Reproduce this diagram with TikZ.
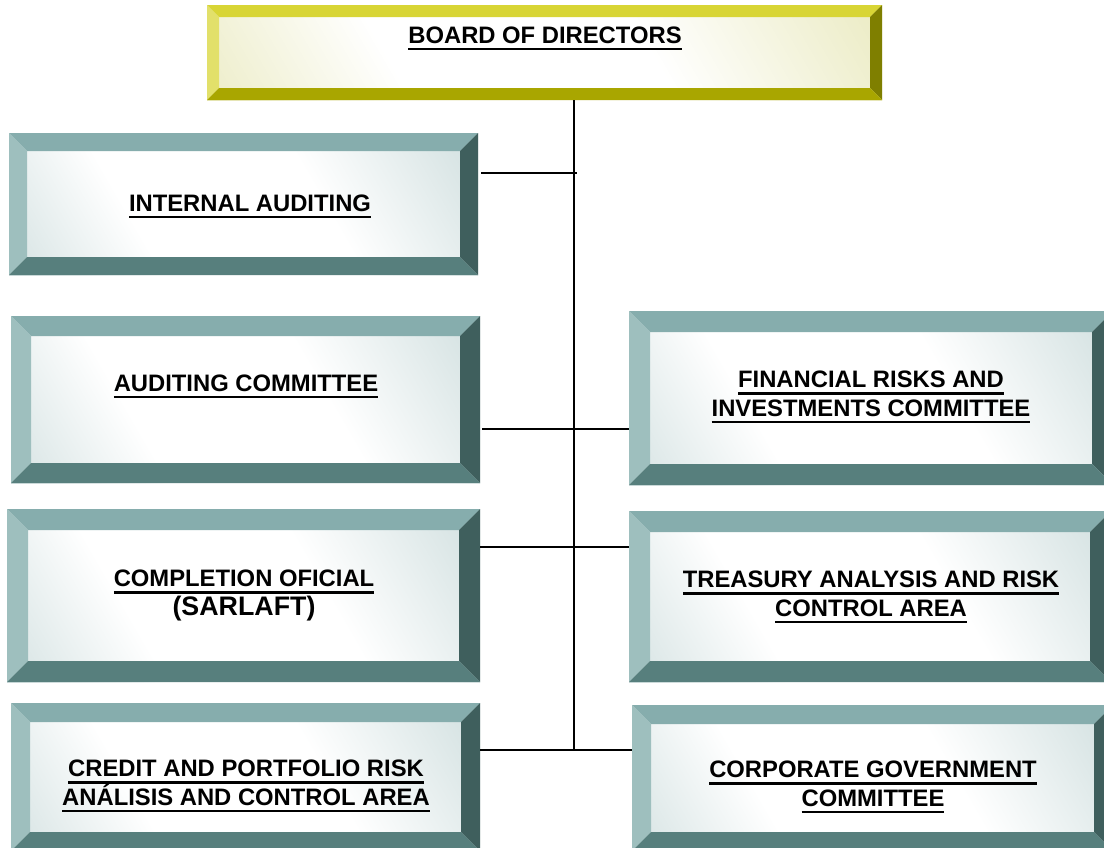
\documentclass[tikz,border=0pt]{standalone}
\usepackage{fontspec}
\setmainfont{Liberation Sans}
\usetikzlibrary{calc}

\definecolor{goldtop}{HTML}{D8D535}
\definecolor{goldleft}{HTML}{E2E06A}
\definecolor{goldright}{HTML}{7F7F00}
\definecolor{goldbottom}{HTML}{A9A600}
\definecolor{goldpale}{HTML}{DEDE9C}
\definecolor{tealtop}{HTML}{86ADAD}
\definecolor{tealleft}{HTML}{9EBFBE}
\definecolor{tealright}{HTML}{3F5F5D}
\definecolor{tealbottom}{HTML}{577F7D}
\definecolor{tealpale}{HTML}{B3CBCB}

\pgfdeclarehorizontalshading{goldglass}{100bp}{color(0bp)=(goldpale); color(35bp)=(white); color(60bp)=(white); color(100bp)=(goldpale)}
\pgfdeclarehorizontalshading{tealglass}{100bp}{color(0bp)=(tealpale); color(35bp)=(white); color(60bp)=(white); color(100bp)=(tealpale)}

% four bevelled faces inside the node's rectangle
\newcommand{\bevels}[5]{%
  \coordinate (bnw) at (path picture bounding box.north west);
  \coordinate (bne) at (path picture bounding box.north east);
  \coordinate (bsw) at (path picture bounding box.south west);
  \coordinate (bse) at (path picture bounding box.south east);
  \fill[#2] (bnw) -- (bne) -- ([shift={(-#1,-#1)}]bne) -- ([shift={(#1,-#1)}]bnw) -- cycle;
  \fill[#3] (bnw) -- ([shift={(#1,-#1)}]bnw) -- ([shift={(#1,#1)}]bsw) -- (bsw) -- cycle;
  \fill[#4] (bne) -- (bse) -- ([shift={(-#1,#1)}]bse) -- ([shift={(-#1,-#1)}]bne) -- cycle;
  \fill[#5] (bsw) -- (bse) -- ([shift={(-#1,#1)}]bse) -- ([shift={(#1,#1)}]bsw) -- cycle;}

\newcommand{\ulined}[1]{\leavevmode\setbox0\hbox{#1}\rlap{\rule[-7.4pt]{\wd0}{2.9pt}}\box0}

\begin{document}
\begin{tikzpicture}[x=1pt,y=-1pt]

    \useasboundingbox (0,0) rectangle (1104,847);
    \clip (0,0) rectangle (1104,847);

    \tikzset{
      BoxStyle/.style = { rectangle, inner sep = 0pt, shading = tealglass,
                          shading angle = 30,
                          path picture = {\bevels{#1}{tealtop}{tealleft}{tealright}{tealbottom}} },
      BoxStyle/.default = 20pt,
      BoardStyle/.style = { rectangle, inner sep = 0pt, shading = goldglass,
                            shading angle = 30,
                            path picture = {\bevels{12pt}{goldtop}{goldleft}{goldright}{goldbottom}} },
      LabelStyle/.style = { inner sep = 0pt, align = center, anchor = base,
                            font = \fontsize{23.8}{28.5}\selectfont\bfseries },
      EdgeStyle/.style = { black, line width = 2.2pt } }

      \node[BoardStyle, minimum width = 675pt, minimum height = 95pt] (b) at (544.5,52.5) {};

      \node[BoxStyle = 18pt, minimum width = 469pt, minimum height = 142pt] (l1) at (243.5,204) {};
      \node[BoxStyle, minimum width = 469pt, minimum height = 167pt] (l2) at (245.5,399.5) {};
      \node[BoxStyle = 21pt, minimum width = 473pt, minimum height = 173pt] (l3) at (243.5,595.5) {};
      \node[BoxStyle = 19pt, minimum width = 469pt, minimum height = 148pt] (l4) at (245.5,777) {};

      \node[BoxStyle = 21pt, minimum width = 484pt, minimum height = 174pt] (r1) at (871,398) {};
      \node[BoxStyle = 21pt, minimum width = 482pt, minimum height = 171pt] (r2) at (870,596.5) {};
      \node[BoxStyle = 19pt, minimum width = 481pt, minimum height = 146pt] (r3) at (872.5,778) {};

      % base anchor sits on the last line
      \node[LabelStyle] (tb) at (545,43) {\ulined{BOARD OF DIRECTORS}};
      \node[LabelStyle] (tl1) at (250,211) {\ulined{INTERNAL AUDITING}};
      \node[LabelStyle] (tl2) at (246,391) {\ulined{AUDITING COMMITTEE}};
      \node[LabelStyle] (tl3) at (244,615) {\ulined{COMPLETION OFICIAL}\\
        {\fontsize{26.8}{29}\selectfont (SARLAFT)}};
      \node[LabelStyle] (tl4) at (246,805) {\ulined{CREDIT AND PORTFOLIO RISK}\\
        \ulined{ANÁLISIS AND CONTROL AREA}};
      \node[LabelStyle] (tr1) at (871,416) {\ulined{FINANCIAL RISKS AND}\\
        \ulined{INVESTMENTS COMMITTEE}};
      \node[LabelStyle] (tr2) at (871,616) {\ulined{TREASURY ANALYSIS AND RISK}\\
        \ulined{CONTROL AREA}};
      \node[LabelStyle] (tr3) at (873,806) {\ulined{CORPORATE GOVERNMENT}\\
        \ulined{COMMITTEE}};

      \coordinate (k1) at (577,173);
      \coordinate (k2) at (574,429);
      \coordinate (k3) at (574,547);
      \coordinate (k4) at (574,750);

      \draw[EdgeStyle] (b.south -| k4) -- (k4);
      \draw[EdgeStyle, shorten <= 3pt] (l1.east |- k1) -- (k1);
      \draw[EdgeStyle, shorten <= 2pt] (l2.east |- k2) -- (r1.west |- k2);
      \draw[EdgeStyle] (l3.east |- k3) -- (r2.west |- k3);
      \draw[EdgeStyle] (l4.east |- k4) -- (r3.west |- k4);
    \end{tikzpicture}
\end{document}
